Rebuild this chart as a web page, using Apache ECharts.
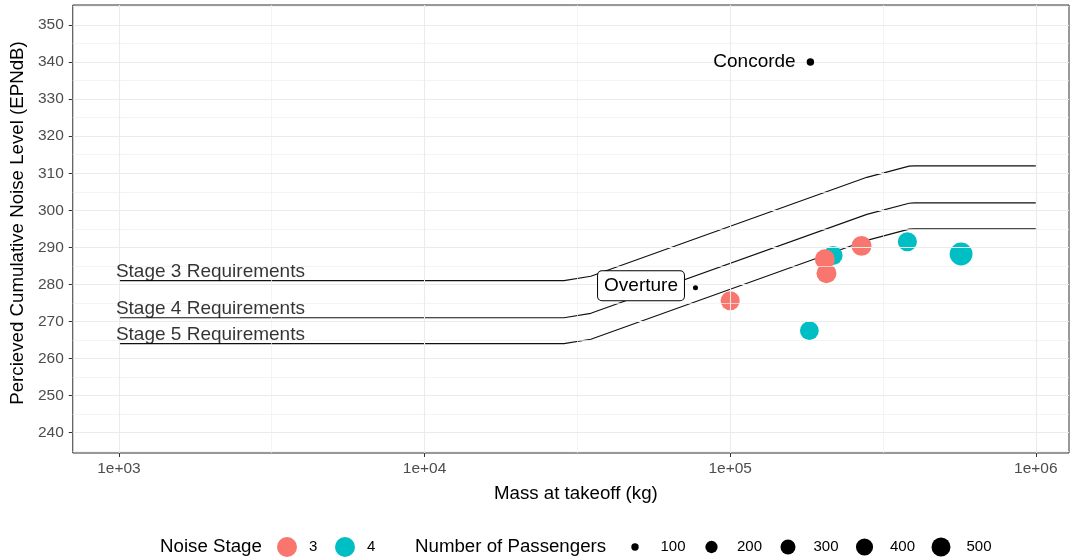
<!DOCTYPE html>
<html>
<head>
<meta charset="utf-8">
<script src="https://cdn.jsdelivr.net/npm/echarts@6/dist/echarts.min.js"></script>
<style>
  html, body { margin: 0; padding: 0; background: #ffffff; }
  #chart { width: 1071px; height: 560px; }
</style>
</head>
<body>
<div id="chart"></div>
<script>
// ---- Noise requirement curves: takeoff-mass breakpoints (kg) and cumulative limits (EPNdB)
const reqMass   = [1000, 28600, 35000, 280000, 385000, 400000, 1000000];
const stage3Req = [281, 281, 282.2, 308.9, 311.9, 312, 312];
const stage4Req = [271, 271, 272.2, 298.9, 301.9, 302, 302];
const stage5Req = [264, 264, 265.2, 291.9, 294.9, 295, 295];
const reqNames  = ['Stage 3 Requirements', 'Stage 4 Requirements', 'Stage 5 Requirements'];

// ---- Certified subsonic aircraft, grouped by noise stage
const stageLevels = ['3', '4'];
const stage3Mass  = [100000, 204000, 206600, 269000];
const stage3Noise = [275.6, 286.8, 283.0, 290.4];
const stage3Pax   = [510, 560, 560, 560];
const stage4Mass  = [181600, 217000, 380000, 569500];
const stage4Noise = [267.5, 287.8, 291.5, 288.2];
const stage4Pax   = [490, 510, 510, 760];

// ---- Supersonic aircraft
const ssNames = ['Concorde', 'Overture'];
const ssMass  = [183000, 77000];
const ssNoise = [340, 279.1];
const ssPax   = [100, 88];

// ---- Axis ticks and grid
const xTickMass   = [1e3, 1e4, 1e5, 1e6];
const xTickLabels = ['1e+03', '1e+04', '1e+05', '1e+06'];
const xMinorMass  = [3162.3, 31623, 316228];
const yTicks      = [240, 250, 260, 270, 280, 290, 300, 310, 320, 330, 340, 350];
const yMinor      = [235, 245, 255, 265, 275, 285, 295, 305, 315, 325, 335, 345, 355];
const paxBreaks   = [100, 200, 300, 400, 500];

// ---- Styling
const FONT = '"Liberation Sans", Arial, sans-serif';
const STAGE_COLORS = ['#F8766D', '#00BFC4'];
const X_MIN = 2.849, X_MAX = 6.1086;   // log10(kg)
const Y_MIN = 234.5, Y_MAX = 355.4;
const PAX_MIN = 88, PAX_MAX = 853;

// point diameter (px) for a passenger count, area-scaled
function paxDiameter(p) {
  const t = Math.sqrt(Math.max(0, (p - PAX_MIN) / (PAX_MAX - PAX_MIN)));
  const size = 1 + 5 * t;
  return (size * 2.845 + 0.945) * 4 / 3;
}
const lg = Math.log10;

const xTickVals = xTickMass.map(lg);
function xTickText(v) {
  for (let i = 0; i < xTickVals.length; i++) {
    if (Math.abs(xTickVals[i] - v) < 1e-6) return xTickLabels[i];
  }
  return '';
}

// background grid drawn as mark lines
const gridMajor = { color: '#EBEBEB', width: 1.1, type: 'solid' };
const gridMinor = { color: '#EFEFEF', width: 0.7, type: 'solid' };
const gridLines = []
  .concat(xMinorMass.map(m => ({ xAxis: lg(m), lineStyle: gridMinor })))
  .concat(yMinor.map(v => ({ yAxis: v, lineStyle: gridMinor })))
  .concat(xTickVals.map(v => ({ xAxis: v, lineStyle: gridMajor })))
  .concat(yTicks.map(v => ({ yAxis: v, lineStyle: gridMajor })));

function reqSeries(vals) {
  return {
    type: 'line', silent: true, z: 3, showSymbol: false, animation: false,
    data: reqMass.map((m, i) => [lg(m), vals[i]]),
    lineStyle: { color: '#111111', width: 1.2 }
  };
}

function stageSeries(idx, mass, noise, pax) {
  return {
    type: 'scatter', name: stageLevels[idx], z: 4, animation: false,
    data: mass.map((m, i) => [lg(m), noise[i], pax[i]]),
    symbolSize: v => paxDiameter(v[2]),
    itemStyle: { color: STAGE_COLORS[idx], opacity: 1 }
  };
}

const labelBase = { fontFamily: FONT, fontSize: 19, color: '#000000' };

const ssData = ssNames.map((n, i) => {
  const item = { name: n, value: [lg(ssMass[i]), ssNoise[i], ssPax[i]] };
  if (n === 'Overture') {
    item.label = Object.assign({}, labelBase, {
      show: true, position: 'left', distance: 9, formatter: '{b}',
      backgroundColor: '#ffffff', borderColor: '#000000', borderWidth: 1,
      borderRadius: 4, padding: [4, 6, 4, 6], lineHeight: 21, offset: [0, -2]
    });
  } else {
    item.label = Object.assign({}, labelBase, {
      show: true, position: 'left', distance: 11, formatter: '{b}'
    });
  }
  return item;
});

const reqLabelData = [stage3Req, stage4Req, stage5Req].map((vals, i) => ({
  name: reqNames[i], value: [lg(reqMass[0]), vals[0]]
}));

// ---- Legend (bottom)
const LEG_Y = 547;
const legendText = (x, text, size) => ({
  type: 'text', x: x, y: LEG_Y, silent: true,
  style: { text: text, fontFamily: FONT, fontSize: size, fill: '#000000',
           align: 'left', verticalAlign: 'middle', textAlign: 'left', textVerticalAlign: 'middle' }
});
const legendDot = (cx, d, color) => ({
  type: 'circle', silent: true, shape: { cx: cx, cy: LEG_Y, r: d / 2 }, style: { fill: color }
});
const graphic = [
  legendText(160, 'Noise Stage', 18.7),
  legendDot(287, 20, STAGE_COLORS[0]), legendText(309, stageLevels[0], 15),
  legendDot(345, 20, STAGE_COLORS[1]), legendText(367, stageLevels[1], 15),
  legendText(415, 'Number of Passengers', 18.7)
];
paxBreaks.forEach((p, i) => {
  const cx = 635 + i * 76.5;
  graphic.push(legendDot(cx, paxDiameter(p), '#000000'));
  graphic.push(legendText(cx + 25.5, String(p), 15));
});

const chart = echarts.init(document.getElementById('chart'), null, { renderer: 'canvas' });
chart.setOption({
  animation: false,
  backgroundColor: '#ffffff',
  textStyle: { fontFamily: FONT },
  grid: { left: 70, right: 2, top: 5, bottom: 107, show: true,
          borderColor: '#333333', borderWidth: 1, backgroundColor: 'transparent' },
  xAxis: {
    type: 'value', min: X_MIN, max: X_MAX,
    axisLine: { show: false },
    axisTick: { show: true, customValues: xTickVals, length: 4, lineStyle: { color: '#333333', width: 1 } },
    axisLabel: { customValues: xTickVals, formatter: xTickText, margin: 8,
                 color: '#4D4D4D', fontSize: 15.5, fontFamily: FONT },
    splitLine: { show: false },
    name: 'Mass at takeoff (kg)', nameLocation: 'middle', nameGap: 31,
    nameTextStyle: { fontFamily: FONT, fontSize: 18.7, color: '#000000', padding: [0, 0, 0, 10] }
  },
  yAxis: {
    type: 'value', min: Y_MIN, max: Y_MAX,
    axisLine: { show: false },
    axisTick: { show: true, customValues: yTicks, length: 4, lineStyle: { color: '#333333', width: 1 } },
    axisLabel: { customValues: yTicks, margin: 9, color: '#4D4D4D', fontSize: 15.5, fontFamily: FONT },
    splitLine: { show: false },
    name: 'Percieved Cumulative Noise Level (EPNdB)', nameLocation: 'middle', nameGap: 39,
    nameTextStyle: { fontFamily: FONT, fontSize: 18.7, color: '#000000', padding: [0, 0, 0, 12] }
  },
  series: [
    { type: 'line', data: [], silent: true, z: 1, animation: false,
      markLine: { silent: true, symbol: ['none', 'none'], animation: false,
                  label: { show: false }, emphasis: { disabled: true }, data: gridLines } },
    reqSeries(stage3Req),
    reqSeries(stage4Req),
    reqSeries(stage5Req),
    { type: 'scatter', silent: true, z: 5, animation: false, symbolSize: 1,
      itemStyle: { color: 'rgba(0,0,0,0)' },
      data: reqLabelData,
      label: Object.assign({}, labelBase, { show: true, position: 'top', align: 'left',
                                            distance: -1, offset: [-3, 0], formatter: '{b}' }) },
    stageSeries(1, stage4Mass, stage4Noise, stage4Pax),
    stageSeries(0, stage3Mass, stage3Noise, stage3Pax),
    { type: 'scatter', name: 'Supersonic', z: 6, animation: false,
      data: ssData, symbolSize: v => paxDiameter(v[2]),
      itemStyle: { color: '#000000', opacity: 1 } }
  ],
  graphic: graphic
});
</script>
</body>
</html>
